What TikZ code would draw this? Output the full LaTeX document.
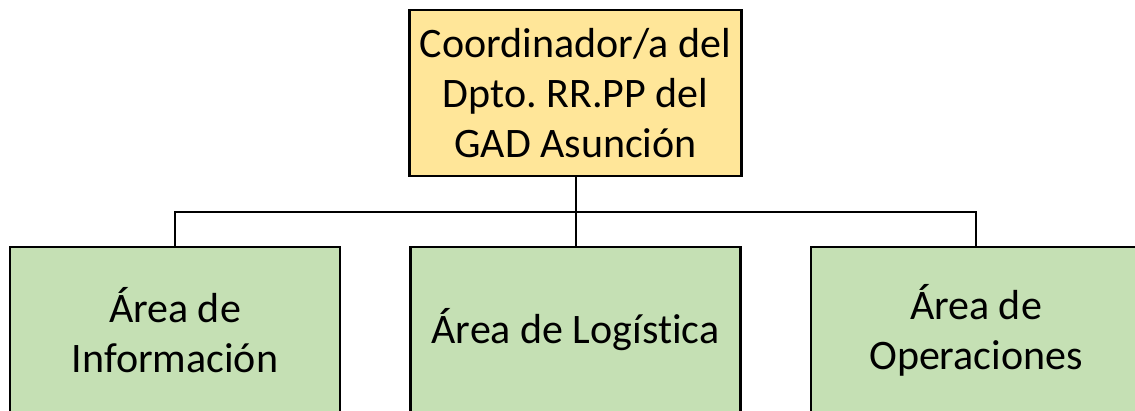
\documentclass[tikz,border=0pt]{standalone}
\usepackage{fontspec}
\setmainfont{Carlito}[RawFeature=-liga]
\definecolor{boxyellow}{HTML}{FFE699}
\definecolor{boxgreen}{HTML}{C5E0B4}
\begin{document}
\frenchspacing
\begin{tikzpicture}[x=1pt,y=1pt,
  box/.style={draw=black, line width=2.5pt, minimum height=166pt, align=center,
    inner sep=0pt, font=\fontsize{42}{50}\selectfont},
  topbox/.style={box, fill=boxyellow, minimum width=332pt},
  subbox/.style={box, fill=boxgreen, minimum width=330pt},
  link/.style={draw=black, line width=2pt}]
\clip (0,0) rectangle (1135,410);
\useasboundingbox (0,0) rectangle (1135,410);
\node[topbox] (top) at (575.5,317) {Coordinador/a del\\Dpto. RR.PP del\\GAD Asunción};
\node[subbox] (info) at (175,80) {Área de\\Información};
\node[subbox] (log) at (575.5,80) {Área de Logística};
\node[subbox] (ops) at (976,80) {Área de\\Operaciones};
\coordinate (bar) at (575.5,198);
\draw[link] (top.south) -- (log.north);
\draw[link] (info.north) |- (bar) -| (ops.north);
\end{tikzpicture}
\end{document}
